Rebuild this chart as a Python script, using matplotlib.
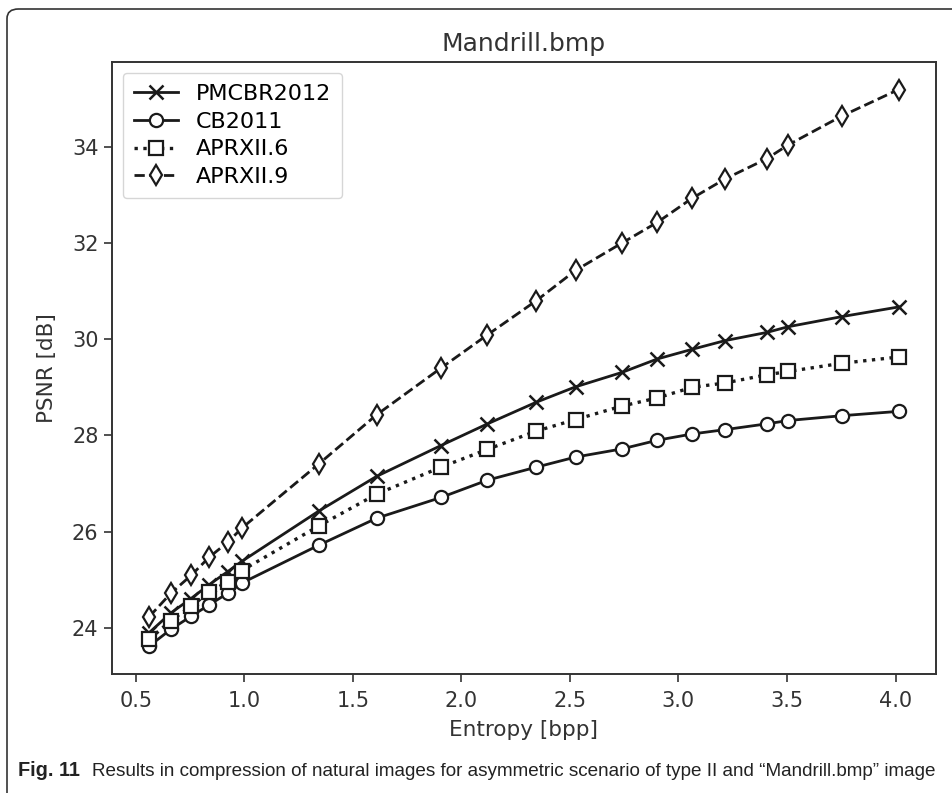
import matplotlib.pyplot as plt
from matplotlib.patches import FancyBboxPatch

# entropy values (bpp), shared by all four methods
entropy = [0.562, 0.662, 0.755, 0.839, 0.924, 0.988, 1.344, 1.610, 1.906, 2.120,
           2.345, 2.526, 2.740, 2.903, 3.063, 3.214, 3.406, 3.506, 3.753, 4.014]

# PSNR [dB]
pmcbr2012 = [23.90, 24.31, 24.61, 24.90, 25.17, 25.38, 26.43, 27.15, 27.79, 28.24,
             28.69, 29.01, 29.31, 29.59, 29.79, 29.97, 30.14, 30.26, 30.47, 30.67]
cb2011 = [23.62, 23.97, 24.24, 24.48, 24.72, 24.93, 25.72, 26.28, 26.71, 27.07,
          27.34, 27.55, 27.72, 27.90, 28.03, 28.12, 28.24, 28.31, 28.41, 28.50]
aprxii6 = [23.76, 24.15, 24.45, 24.74, 24.96, 25.19, 26.12, 26.78, 27.34, 27.71,
           28.09, 28.33, 28.61, 28.78, 29.00, 29.09, 29.26, 29.33, 29.50, 29.63]
aprxii9 = [24.23, 24.72, 25.09, 25.47, 25.78, 26.07, 27.41, 28.43, 29.40, 30.09,
           30.80, 31.43, 32.00, 32.43, 32.93, 33.33, 33.75, 34.04, 34.64, 35.19]

caption = ('Results in compression of natural images for asymmetric scenario '
           'of type II and \u201cMandrill.bmp\u201d image')

plt.rcParams['font.family'] = 'DejaVu Sans'
fig = plt.figure(figsize=(9.53, 7.93), dpi=100)

# journal figure frame (open to the right and bottom, like the page crop)
frame = FancyBboxPatch((7 / 953, -0.05), 1.1, (793 - 9) / 793 + 0.05,
                       boxstyle="round,pad=0,rounding_size=0.012",
                       transform=fig.transFigure, fill=False,
                       edgecolor='#333333', linewidth=1.2)
fig.patches.append(frame)

ax = fig.add_axes([0.1172, 0.1501, 0.9822 - 0.1172, 0.9222 - 0.1501])

lc = '#1a1a1a'
ms = 9.5
lw = 2.0
ax.plot(entropy, pmcbr2012, '-', marker='x', color=lc, lw=lw, ms=ms, mew=1.8,
        label='PMCBR2012')
ax.plot(entropy, cb2011, '-', marker='o', color=lc, lw=lw, ms=ms, mew=1.6,
        mfc='white', label='CB2011')
ax.plot(entropy, aprxii6, ':', marker='s', color=lc, lw=lw + 0.4, ms=ms, mew=1.6,
        mfc='white', label='APRXII.6')
ax.plot(entropy, aprxii9, '--', marker='d', color=lc, lw=lw, ms=ms + 1, mew=1.6,
        mfc='white', label='APRXII.9')

ax.set_xticks([0.5, 1.0, 1.5, 2.0, 2.5, 3.0, 3.5, 4.0])
ax.set_yticks([24, 26, 28, 30, 32, 34])
ax.tick_params(labelsize=15, length=6, width=1.2, colors='#333333')
ax.tick_params(axis='x', pad=6)
for s in ax.spines.values():
    s.set_linewidth(1.4)
    s.set_color('#333333')

ax.set_title('Mandrill.bmp', fontsize=18, color='#333333', pad=8)
ax.set_xlabel('Entropy [bpp]', fontsize=15.5, color='#333333', labelpad=7)
ax.set_ylabel('PSNR [dB]', fontsize=15.5, color='#333333', labelpad=11)
ax.legend(loc='upper left', fontsize=16, handlelength=2.0, borderpad=0.5,
          labelspacing=0.35)

fig.text(18 / 953, 1 - 771 / 793, 'Fig. 11', fontsize=14.3, fontweight='bold',
         va='center', ha='left', color='#222222', family='Liberation Sans')
fig.text(92 / 953, 1 - 771 / 793, caption,
         fontsize=13.6, va='center', ha='left', color='#222222',
         family='Liberation Sans')

fig.savefig('out.png', dpi=100)
